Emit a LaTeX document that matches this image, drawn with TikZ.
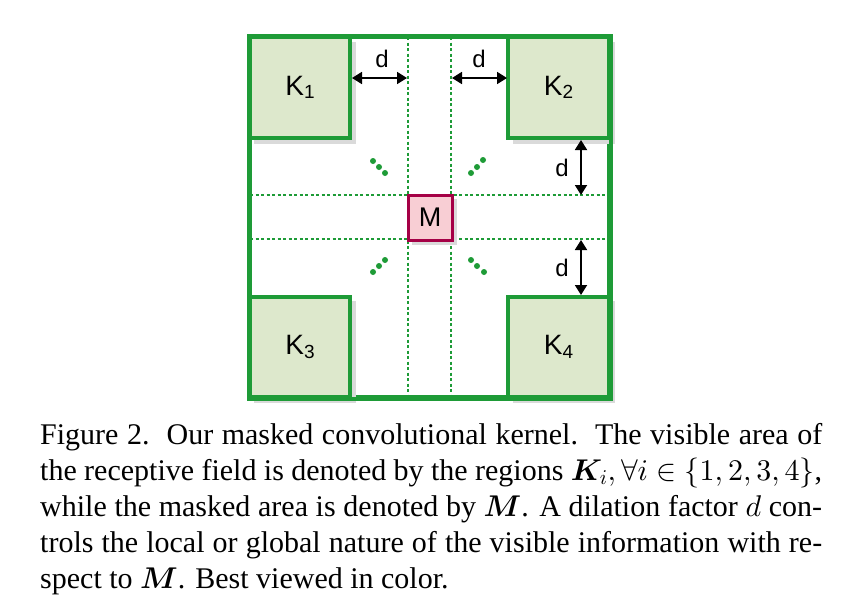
\documentclass[tikz,border=0pt]{standalone}
\usepackage{fontspec}
\usepackage{bm}
\setmainfont{Liberation Serif}
\newfontfamily\labelfont{Liberation Sans}
\DeclareFontShape{OML}{cmm}{m}{it}{<->cmmi10}{}
\DeclareFontShape{OML}{cmm}{b}{it}{<->cmmib10}{}
\DeclareFontShape{OMS}{cmsy}{m}{n}{<->cmsy10}{}
\DeclareFontShape{OMS}{cmsy}{b}{n}{<->cmbsy10}{}
\DeclareFontShape{OT1}{cmr}{m}{n}{<->cmr10}{}
\DeclareFontShape{OT1}{cmr}{bx}{n}{<->cmbx10}{}
\usetikzlibrary{arrows.meta}
\definecolor{kgreen}{RGB}{30,155,55}
\definecolor{kfill}{RGB}{221,232,204}
\definecolor{mfill}{RGB}{248,206,212}
\definecolor{mborder}{RGB}{165,0,70}
\definecolor{shadowgray}{RGB}{218,218,218}
\tikzset{
  kbox/.style={draw=kgreen, fill=kfill, line width=3.5pt, minimum width=100pt, minimum height=100pt, inner sep=0pt, font=\labelfont\fontsize{28}{32}\selectfont},
  kshadow/.style={fill=shadowgray, draw=none, minimum width=102pt, minimum height=102pt, inner sep=0pt},
  mbox/.style={draw=mborder, fill=mfill, line width=3pt, minimum width=44pt, minimum height=45pt, inner sep=0pt, font=\labelfont\fontsize{27}{30}\selectfont},
  guide/.style={draw=kgreen, line width=1.6pt, dash pattern=on 3pt off 2.5pt},
  darrow/.style={black, line width=1.8pt, {Triangle[width=12pt,length=10pt]}-{Triangle[width=12pt,length=10pt]}},
  dlabel/.style={font=\labelfont\fontsize{24}{28}\selectfont, inner sep=0pt},
  kdot/.style={fill=kgreen, draw=none, circle, minimum size=6pt, inner sep=0pt},
}
\newcommand{\ksub}[1]{K\raisebox{-3.5pt}{\fontsize{19}{19}\selectfont #1}}
\begin{document}
\begin{tikzpicture}[x=1pt,y=-1pt]
\useasboundingbox (0,0) rectangle (852,611);
% outer frame
\node[draw=kgreen, fill=white, line width=3.5pt, minimum width=359pt, minimum height=360pt, inner sep=0pt] (outer) at (429.5,217) {};
% guide lines
\coordinate (vlt) at (408,37); \coordinate (vlb) at (408,397);
\coordinate (vrt) at (451,37); \coordinate (vrb) at (451,397);
\coordinate (hul) at (250,195); \coordinate (hur) at (609,195);
\coordinate (hll) at (250,239); \coordinate (hlr) at (609,239);
\draw[guide] (vlt) -- (vlb);
\draw[guide] (vrt) -- (vrb);
\draw[guide] (hul) -- (hur);
\draw[guide] (hll) -- (hlr);
% shadows
\node[kshadow] (s1) at (305,92.5) {};
\node[kshadow] (s2) at (563.5,92.5) {};
\node[kshadow] (s3) at (305,352) {};
\node[kshadow] (s4) at (563.5,352) {};
\node[fill=shadowgray, minimum width=45pt, minimum height=46pt, inner sep=0pt] (sm) at (434.5,222) {};
% redraw outer frame border over shadows
\draw[kgreen, line width=3.5pt] (outer.north west) rectangle (outer.south east);
% kernel boxes
\node[kbox, minimum width=100pt, minimum height=101pt] (K1) at (300,87.5) {\ksub{1}};
\node[kbox, minimum width=101pt, minimum height=101pt] (K2) at (558.5,87.5) {\ksub{2}};
\node[kbox, minimum width=100pt, minimum height=100pt] (K3) at (300,347) {\ksub{3}};
\node[kbox, minimum width=101pt, minimum height=100pt] (K4) at (558.5,347) {\ksub{4}};
% mask
\node[mbox] (M) at (430,217.5) {M};
% d arrows
\coordinate (a1s) at (352,78); \coordinate (a1e) at (407,78);
\coordinate (a2s) at (452,78); \coordinate (a2e) at (507,78);
\coordinate (a3s) at (581,140); \coordinate (a3e) at (581,195);
\coordinate (a4s) at (581,240); \coordinate (a4e) at (581,295);
\draw[darrow] (a1s) -- (a1e);
\draw[darrow] (a2s) -- (a2e);
\draw[darrow] (a3s) -- (a3e);
\draw[darrow] (a4s) -- (a4e);
\node[dlabel] (d1) at (382,59) {d};
\node[dlabel] (d2) at (479,59) {d};
\node[dlabel] (d3) at (562,168) {d};
\node[dlabel] (d4) at (562,268) {d};
% dots
\node[kdot] (p1) at (373,161) {}; \node[kdot] (p2) at (379,167) {}; \node[kdot] (p3) at (385,173) {};
\node[kdot] (q1) at (471,173) {}; \node[kdot] (q2) at (477,167) {}; \node[kdot] (q3) at (483,160) {};
\node[kdot] (r1) at (373,272) {}; \node[kdot] (r2) at (379,266) {}; \node[kdot] (r3) at (385,260) {};
\node[kdot] (t1) at (471,260) {}; \node[kdot] (t2) at (477,266) {}; \node[kdot] (t3) at (484,272) {};
% caption
\node[anchor=base west, inner sep=0pt] (cap) at (40,444) {\parbox[t]{782pt}{\fontsize{30}{36}\selectfont
Figure 2.\ \ Our masked convolutional kernel.\ \ The visible area of\linebreak
the receptive field is denoted by the regions $\bm{K}_i, \forall i \in \{1,2,3,4\}$,\linebreak
while the masked area is denoted by $\bm{M}$. A dilation factor $d$ con-\linebreak
trols the local or global nature of the visible information with re-\linebreak
spect to $\bm{M}$. Best viewed in color.}};
\end{tikzpicture}
\end{document}
